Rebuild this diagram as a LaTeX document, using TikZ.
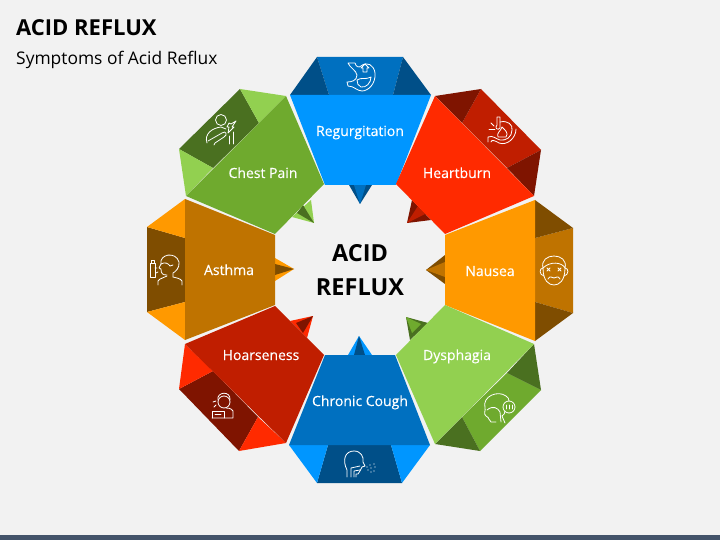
\documentclass[tikz,border=0pt]{standalone}
\usepackage{fontspec}
\setmainfont{Open Sans}

\definecolor{bluea}{HTML}{0096FF}
\definecolor{blueb}{HTML}{0070C0}
\definecolor{bluec}{HTML}{004F88}
\definecolor{reda}{HTML}{FF2A00}
\definecolor{redb}{HTML}{C01E00}
\definecolor{redc}{HTML}{7F1400}
\definecolor{orangea}{HTML}{FF9900}
\definecolor{orangeb}{HTML}{BF7300}
\definecolor{orangec}{HTML}{7F4D00}
\definecolor{greena}{HTML}{92D050}
\definecolor{greenb}{HTML}{6FAA2E}
\definecolor{greenc}{HTML}{4A7020}
\definecolor{pagebg}{HTML}{F2F2F2}
\definecolor{barcolor}{HTML}{44546A}

\tikzset{
  label/.style={text=white, font=\fontsize{14}{16}\selectfont\addfontfeature{FakeBold=0.25}, inner sep=0pt, anchor=base},
  icon/.style={draw=white, line width=0.8pt, line join=round, line cap=round},
}

\begin{document}
\begin{tikzpicture}[x=1pt, y=-1pt]
            % Page
            \fill[pagebg] (0,0) rectangle (720,540);
            \fill[barcolor] (0,535) rectangle (720,540);
            \useasboundingbox (0,0) rectangle (720,540);

            % Tips
            \fill[bluec] (360,204) -- (349,185) -- (372,185) -- cycle;
            \fill[blueb] (360,204) -- (354,185) -- (366,185) -- cycle;
            \fill[redc] (407,223) -- (412,200) -- (431,220) -- cycle;
            \fill[redb] (407,223) -- (418,206) -- (425,214) -- cycle;
            \fill[orangec] (426,270) -- (445,255) -- (445,284) -- cycle;
            \fill[orangeb] (426,270) -- (445,262) -- (445,277) -- cycle;
            \fill[greenc] (406,317) -- (428,323) -- (410,340) -- cycle;
            \fill[greenb] (406,317) -- (421,324) -- (412,333) -- cycle;
            \fill[bluea] (359,336) -- (348,355) -- (372,355) -- cycle;
            \fill[bluec] (359,336) -- (354,355) -- (365,355) -- cycle;
            \fill[reda] (313,316) -- (290,321) -- (307,338) -- cycle;
            \fill[redc] (313,316) -- (296,323) -- (303,333) -- cycle;
            \fill[orangea] (294,269) -- (275,258) -- (275,281) -- cycle;
            \fill[orangec] (294,269) -- (275,264) -- (275,275) -- cycle;
            \fill[greena] (314,223) -- (311,200) -- (292,217) -- cycle;
            \fill[greenc] (314,223) -- (303,205) -- (297,213) -- cycle;

            % Regurgitation
            \fill[blueb] (317,57) -- (403,57) -- (393,95) -- (329,95) -- cycle;
            \fill[bluec] (290,95) -- (317,57) -- (329,95) -- cycle;
            \fill[bluec] (431,95) -- (403,57) -- (393,95) -- cycle;
            \fill[bluea] (290,95) -- (431,95) -- (396,185) -- (325,185) -- cycle;

            % Heartburn
            \fill[redb] (481,89) -- (541,150) -- (507,168) -- (462,123) -- cycle;
            \fill[redc] (435,96) -- (481,89) -- (462,123) -- cycle;
            \fill[redc] (534,196) -- (541,150) -- (507,168) -- cycle;
            \fill[reda] (435,96) -- (534,196) -- (445,234) -- (396,184) -- cycle;

            % Nausea
            \fill[orangeb] (535,238) -- (573,228) -- (573,313) -- (535,302) -- cycle;
            \fill[orangec] (535,200) -- (573,228) -- (535,238) -- cycle;
            \fill[orangec] (535,341) -- (573,313) -- (535,302) -- cycle;
            \fill[orangea] (445,235) -- (535,200) -- (535,341) -- (445,305) -- cycle;

            % Dysphagia
            \fill[greenb] (507,373) -- (541,390) -- (480,451) -- (462,417) -- cycle;
            \fill[greenc] (534,344) -- (541,390) -- (507,373) -- cycle;
            \fill[greenc] (435,444) -- (480,451) -- (462,417) -- cycle;
            \fill[greena] (445,305) -- (534,344) -- (435,444) -- (396,355) -- cycle;

            % Chronic Cough
            \fill[bluec] (328,445) -- (391,445) -- (402,483) -- (317,483) -- cycle;
            \fill[bluea] (289,445) -- (328,445) -- (317,483) -- cycle;
            \fill[bluea] (430,445) -- (391,445) -- (402,483) -- cycle;
            \fill[blueb] (325,355) -- (395,355) -- (430,445) -- (289,445) -- cycle;

            % Hoarseness
            \fill[redc] (213,371) -- (258,417) -- (239,451) -- (179,389) -- cycle;
            \fill[reda] (185,344) -- (179,389) -- (213,371) -- cycle;
            \fill[reda] (286,443) -- (239,451) -- (258,417) -- cycle;
            \fill[redb] (275,306) -- (324,355) -- (286,443) -- (185,344) -- cycle;

            % Asthma
            \fill[orangec] (185,238) -- (147,227) -- (147,312) -- (185,302) -- cycle;
            \fill[orangea] (185,199) -- (147,227) -- (185,238) -- cycle;
            \fill[orangea] (185,340) -- (147,312) -- (185,302) -- cycle;
            \fill[orangeb] (185,199) -- (275,235) -- (275,305) -- (185,340) -- cycle;

            % Chest Pain
            \fill[greenc] (240,89) -- (259,123) -- (213,168) -- (179,149) -- cycle;
            \fill[greena] (286,96) -- (240,89) -- (259,123) -- cycle;
            \fill[greena] (186,196) -- (179,149) -- (213,168) -- cycle;
            \fill[greenb] (286,96) -- (324,184) -- (275,234) -- (186,196) -- cycle;

            % Icons
            % stomach
            \draw[icon] (348,63) -- (355,63) .. controls (356,67) and (359,68) .. (361,66) .. controls (367,61) and (374,65) .. (375,73) .. controls (376,84) and (368,91) .. (362,91) .. controls (357,91) and (354,86) .. (348,86) -- (347,82) .. controls (351,82) and (357,81) .. (357,75) .. controls (356,70) and (350,68) .. (348,63);
            \draw[icon] (357,80) .. controls (361,77) and (366,80) .. (371,77) .. controls (371,83) and (366,88) .. (361,87) .. controls (358,86) and (357,83) .. (357,80);
            \draw[icon] (365,64) -- (369,68) -- (367,68) -- (367,72) -- (363,72) -- (363,68) -- (361,68) -- cycle;
            % stomach with flame
            \draw[icon] (497,117) -- (497,125) .. controls (494,128) and (498,131) .. (500,128) .. controls (500,124) and (500,120) .. (500,117) -- (497,117);
            \draw[icon] (500,122) .. controls (508,120) and (513,125) .. (512,130) .. controls (512,137) and (506,141) .. (500,140) .. controls (496,139) and (493,135) .. (488,137) -- (488,142);
            \draw[icon] (491,142) .. controls (491,139) and (496,141) .. (499,143) .. controls (507,146) and (516,138) .. (516,129);
            \draw[icon] (498,137) .. controls (496,133) and (501,131) .. (502,127) .. controls (505,130) and (509,133) .. (506,137) -- cycle;
            \draw[icon] (489,129) -- (495,129);
            \draw[icon] (491,123) -- (494,126);
            % face
            \draw[icon] (543,268) .. controls (543,281) and (549,285) .. (554,285) .. controls (559,285) and (565,281) .. (565,268);
            \draw[icon] (543,268) .. controls (539,252) and (569,252) .. (565,268) .. controls (562,262) and (550,261) .. (543,268);
            \draw[icon] (543,268) .. controls (539,268) and (539,275) .. (544,276);
            \draw[icon] (565,268) .. controls (569,268) and (569,275) .. (564,276);
            \draw[icon] (547,268) -- (550,271) (550,268) -- (547,271);
            \draw[icon] (558,268) -- (561,271) (561,268) -- (558,271);
            \draw[icon] (548,279) .. controls (550,275) and (552,278) .. (554,278) .. controls (556,278) and (558,275) .. (560,279);
            % throat and bubble
            \draw[icon] (496,422) -- (491,422) .. controls (488,420) and (490,418) .. (486,416) .. controls (483,414) and (486,410) .. (485,408) .. controls (482,396) and (498,390) .. (506,396) .. controls (508,397) and (509,399) .. (509,401);
            \draw[icon] (509,407) circle[radius=6];
            \draw[icon] (506,405) -- (506,409) (509,405) -- (509,409) (512,405) -- (512,409);
            \draw[icon] (487,410) .. controls (493,405) and (498,408) .. (500,412) -- (501,422);
            \draw[icon] (505,423) -- (502,416) .. controls (504,414) and (505,414) .. (505,411);
            % cough
            \draw[icon] (347,477) -- (347,470) .. controls (342,460) and (345,451) .. (354,451) .. controls (361,451) and (364,457) .. (363,462) -- (365,466) -- (362,467) -- (360,471) -- (358,474) -- (356,474) -- (356,477);
            \draw[icon] (351,477) -- (351,468) -- (360,466);
            \draw[icon] (354,477) -- (354,471) -- (360,470);
            \foreach \px/\py in {367/467, 370/465, 374/464, 368/470, 371/468, 375/467, 371/472, 374/471}
              \fill[white] (\px,\py) circle[radius=0.7];
            % hoarseness person
            \draw[icon] (224,402) circle[radius=6];
            \draw[icon] (218,400) .. controls (216,392) and (231,390) .. (230,400);
            \draw[icon] (212,418) -- (233,418) -- (233,411) .. controls (231,408) and (228,408) .. (226,408);
            \draw[icon] (212,418) -- (212,411) -- (224,411) -- (224,418);
            \draw[icon] (216,405) -- (214,407) (216,401) -- (213,402);
            \draw[icon] (215,414) -- (221,414);
            % asthma person
            \draw[icon] (150,263) rectangle (155,277);
            \draw[icon] (151,263) -- (151,260) -- (154,260) -- (154,263);
            \draw[icon] (161,264) .. controls (159,254) and (176,251) .. (179,262) .. controls (180,268) and (175,272) .. (173,273) -- (173,277);
            \draw[icon] (161,264) .. controls (165,262) and (168,263) .. (170,266) -- (173,265);
            \draw[icon] (161,264) -- (159,268) -- (161,269) .. controls (161,274) and (163,275) .. (167,275);
            \draw[icon] (158,285) -- (158,281) .. controls (160,278) and (164,278) .. (167,276);
            \draw[icon] (182,285) -- (182,281) .. controls (180,278) and (176,278) .. (173,277);
            \draw[icon] (157,268) -- (155,268) (158,272) -- (156,273);
            % chest pain person
            \draw[icon] (221,120) circle[radius=5.5];
            \draw[icon] (207,143) .. controls (204,134) and (212,128) .. (221,127) -- (226,129);
            \draw[icon] (208,141) -- (222,133) .. controls (226,130) and (228,135) .. (224,137) -- (215,143) -- (214,145);
            \draw[icon] (229,136) -- (229,144) (233,132) -- (233,144);
            \draw[icon] (236,121) -- (232,127) -- (234,127) -- (228,133) -- (229,127) -- (227,127) -- (229,123) -- (231,124) -- cycle;

            % Nodes
            \node[label] (regurgitation) at (360,136) {Regurgitation};
            \node[label] (heartburn) at (457,178) {Heartburn};
            \node[label] (nausea) at (490,276) {Nausea};
            \node[label] (dysphagia) at (457,360) {Dysphagia};
            \node[label] (cough) at (360,406) {Chronic Cough};
            \node[label] (hoarseness) at (261,360) {Hoarseness};
            \node[label] (asthma) at (229,275) {Asthma};
            \node[label] (chestpain) at (263,178) {Chest Pain};
            \node[font=\fontsize{23.5}{34}\selectfont\bfseries, align=center, inner sep=0pt] (center) at (360,270) {ACID\\REFLUX};
            \node[font=\fontsize{22}{26}\selectfont\bfseries, anchor=base west, inner sep=0pt] (title) at (16,36) {ACID REFLUX};
            \node[font=\fontsize{17.4}{20}\selectfont, anchor=base west, inner sep=0pt] (subtitle) at (16,65) {Symptoms of Acid Reflux};
\end{tikzpicture}
\end{document}
